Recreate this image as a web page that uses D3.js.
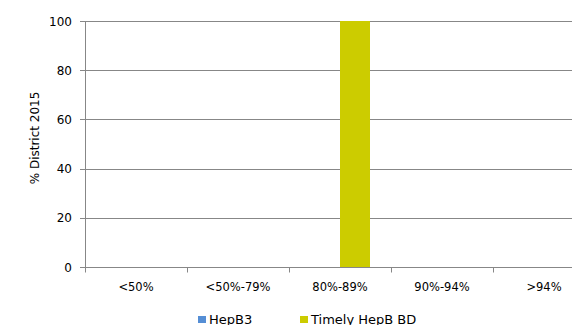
<!DOCTYPE html>
<html><head><meta charset="utf-8">
<script src="https://cdn.jsdelivr.net/npm/d3@7"></script>
<style>html,body{margin:0;padding:0;background:#fff;overflow:hidden}</style>
</head><body>
<svg id="chart" width="572" height="325"></svg>
<script>
const categories = ["<50%", "<50%-79%", "80%-89%", "90%-94%", ">94%"];
const seriesNames = ["HepB3", "Timely HepB BD"];
const hepB3 = [0, 0, 0, 0, 0];
const timelyHepBBD = [0, 0, 100, 0, 0];
const yTicks = [0, 20, 40, 60, 80, 100];
const colors = ["#558ED5", "#CCCC00"];

const seriesValues = [hepB3, timelyHepBBD];
const svg = d3.select("#chart");
const font = "DejaVu Sans, sans-serif";
const gridColor = "#878787";

const x = d3.scaleBand().domain(categories).range([85, 595]).paddingInner(0).paddingOuter(0);
const x1 = d3.scaleBand().domain(seriesNames).range([0, x.bandwidth()]).paddingInner(0).paddingOuter(0.7);
const y = d3.scaleLinear().domain([0, 100]).range([267, 21]);

// gridlines
svg.append("g").selectAll("line").data(yTicks).join("line")
  .attr("x1", 80).attr("x2", 572)
  .attr("y1", d => Math.round(y(d)) + 0.5).attr("y2", d => Math.round(y(d)) + 0.5)
  .attr("stroke", gridColor).attr("stroke-width", 1);

// y axis line
svg.append("line").attr("x1", 85.5).attr("x2", 85.5).attr("y1", y(100)).attr("y2", y(0) + 0.5)
  .attr("stroke", gridColor);

// x tick marks at band edges
const edges = categories.map(c => x(c));
svg.append("g").selectAll("line").data(edges).join("line")
  .attr("x1", d => Math.round(d) + 0.5).attr("x2", d => Math.round(d) + 0.5)
  .attr("y1", y(0)).attr("y2", y(0) + 5.5)
  .attr("stroke", gridColor);

// y labels
svg.append("g").selectAll("text").data(yTicks).join("text")
  .attr("x", 72).attr("y", d => y(d) + 4.5)
  .attr("text-anchor", "end")
  .attr("font-family", font).attr("font-size", 12).attr("fill", "#000")
  .text(d => d);

// x labels
svg.append("g").selectAll("text").data(categories).join("text")
  .attr("x", d => x(d) + x.bandwidth() / 2).attr("y", 291)
  .attr("text-anchor", "middle")
  .attr("font-family", font).attr("font-size", 11.5).attr("fill", "#000")
  .text(d => d);

// bars
const groups = svg.append("g").selectAll("g").data(categories).join("g")
  .attr("transform", d => `translate(${x(d)},0)`);
groups.selectAll("rect").data((d, i) => seriesNames.map((s, j) => ({s, v: seriesValues[j][i], j})))
  .join("rect")
  .attr("x", d => x1(d.s)).attr("width", x1.bandwidth())
  .attr("y", d => y(d.v)).attr("height", d => y(0) - y(d.v))
  .attr("fill", d => colors[d.j]);

// y title
svg.append("text")
  .attr("transform", "translate(39,138) rotate(-90)")
  .attr("text-anchor", "middle")
  .attr("font-family", font).attr("font-size", 12).attr("fill", "#000")
  .text("% District 2015");

// legend
const legendX = [198, 300];
const lg = svg.append("g").selectAll("g").data(seriesNames).join("g")
  .attr("transform", (d, i) => `translate(${legendX[i]},0)`);
lg.append("rect").attr("x", 0).attr("y", 316).attr("width", 8).attr("height", 7)
  .attr("fill", (d, i) => colors[i]);
lg.append("text").attr("x", 11).attr("y", 323.5)
  .attr("font-family", font).attr("font-size", 13).attr("fill", "#000")
  .text(d => d);
</script>
</body></html>
